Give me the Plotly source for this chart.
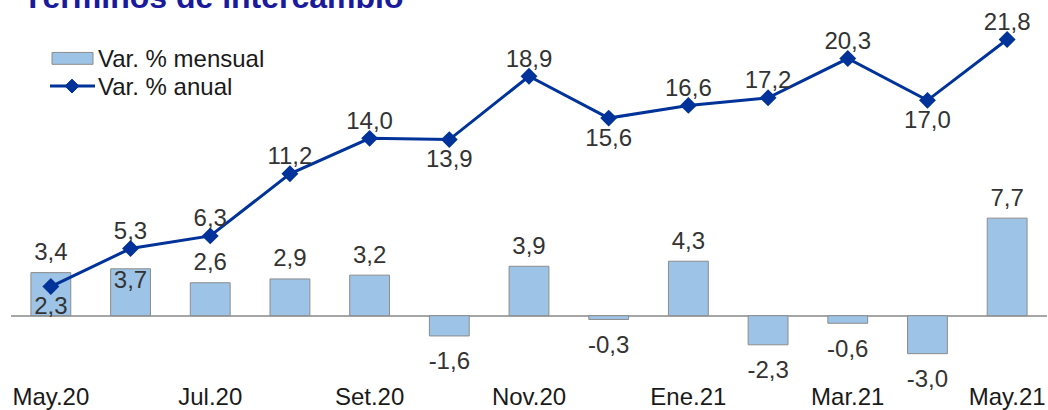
import plotly.graph_objects as go

meses = ["May.20", "Jun.20", "Jul.20", "Ago.20", "Set.20", "Oct.20", "Nov.20",
         "Dic.20", "Ene.21", "Feb.21", "Mar.21", "Abr.21", "May.21"]
var_mensual = [3.4, 3.7, 2.6, 2.9, 3.2, -1.6, 3.9, -0.3, 4.3, -2.3, -0.6, -3.0, 7.7]
var_anual = [2.3, 5.3, 6.3, 11.2, 14.0, 13.9, 18.9, 15.6, 16.6, 17.2, 20.3, 17.0, 21.8]

# label placement, copied from the original chart
pos_mensual = ["top center", "inside", "top center", "top center", "top center",
               "bottom center", "top center", "bottom center", "top center",
               "bottom center", "bottom center", "bottom center", "top center"]
pos_anual = ["bottom center", "top center", "top center", "top center", "top center",
             "bottom center", "top center", "bottom center", "top center", "top center",
             "top center", "bottom center", "top center"]

def fmt(v):
    return f"{v:.1f}".replace(".", ",")

FONT = "Liberation Sans, Arial, sans-serif"
LABEL = "#333333"
BAR = "#9dc3e6"
BAR_EDGE = "#8c8c8c"
LINE = "#003399"

W, H = 1048, 410
ML, MR, MT, MB = 11, 1, 0, 26
PW, PH = W - ML - MR, H - MT - MB

def px(x):
    return (x - ML) / PW

def py(y):
    return 1 - (y - MT) / PH

# invisible marker sizes only set the gap between a label and its point
gap_bar = {"top center": 9, "bottom center": 23, "inside": 1}
gap_line = {"top center": 4, "bottom center": 14}

fig = go.Figure()

fig.add_trace(go.Bar(
    x=meses,
    y=var_mensual,
    name="Var. % mensual",
    marker=dict(color=BAR, line=dict(color=BAR_EDGE, width=1)),
))

fig.add_trace(go.Scatter(
    x=meses,
    y=var_anual,
    name="Var. % anual",
    mode="lines+markers",
    line=dict(color=LINE, width=3),
    marker=dict(symbol="diamond", size=13, color=LINE),
))

fig.add_trace(go.Scatter(
    x=meses,
    y=var_mensual,
    mode="markers+text",
    text=[fmt(v) for v in var_mensual],
    textposition=[p.replace("inside", "bottom center") for p in pos_mensual],
    marker=dict(size=[gap_bar[p] for p in pos_mensual], opacity=0,
                line=dict(width=0)),
    textfont=dict(family=FONT, size=24, color=LABEL),
    cliponaxis=False,
    hoverinfo="skip",
))

fig.add_trace(go.Scatter(
    x=meses,
    y=var_anual,
    mode="markers+text",
    text=[fmt(v) for v in var_anual],
    textposition=pos_anual,
    marker=dict(size=[gap_line[p] for p in pos_anual], opacity=0,
                line=dict(width=0)),
    textfont=dict(family=FONT, size=24, color=LABEL),
    cliponaxis=False,
    hoverinfo="skip",
))

fig.add_annotation(
    text="<b>Términos de intercambio</b>",
    xref="paper", yref="paper", x=0, y=1,
    xanchor="left", yanchor="bottom", xshift=10, yshift=-17,
    showarrow=False,
    font=dict(family=FONT, size=32, color="#1a1a9c"),
)

# legend drawn by hand so the bar swatch is a wide box like the original
fig.add_shape(type="rect", xref="paper", yref="paper",
              x0=px(52), x1=px(93), y0=py(53), y1=py(65),
              fillcolor=BAR, line=dict(color=BAR_EDGE, width=1))
fig.add_shape(type="line", xref="paper", yref="paper",
              x0=px(50), x1=px(95), y0=py(87), y1=py(87),
              line=dict(color=LINE, width=3))
fig.add_shape(type="path", xref="paper", yref="paper",
              path=(f"M{px(65)},{py(87)} L{px(72)},{py(80)} "
                    f"L{px(79)},{py(87)} L{px(72)},{py(94)} Z"),
              fillcolor=LINE, line=dict(color=LINE, width=1))
for texto, yy in [("Var. % mensual", 59), ("Var. % anual", 87)]:
    fig.add_annotation(text=texto, xref="paper", yref="paper",
                       x=px(96), y=py(yy), xanchor="left", yanchor="middle",
                       showarrow=False,
                       font=dict(family=FONT, size=24, color="#1a1a1a"))

fig.update_layout(
    width=W, height=H,
    margin=dict(l=ML, r=MR, t=MT, b=MB),
    paper_bgcolor="white", plot_bgcolor="white",
    bargap=0.5,
    showlegend=False,
    xaxis=dict(
        tickvals=meses[::2],
        ticktext=meses[::2],
        showgrid=False, showline=False, ticks="",
        tickfont=dict(family=FONT, size=24, color="#1a1a1a"),
        range=[-0.5, 12.5],
    ),
    yaxis=dict(
        range=[-65 / 12.8, 319 / 12.8],
        visible=True, showticklabels=False, showgrid=False,
        zeroline=True, zerolinecolor="#a6a6a6", zerolinewidth=1.5,
    ),
)

# drop the browser's default page margin so the chart sits flush at 0,0
fig.write_html("out.html", config={"displayModeBar": False},
               post_script="document.body.style.margin = '0';")
